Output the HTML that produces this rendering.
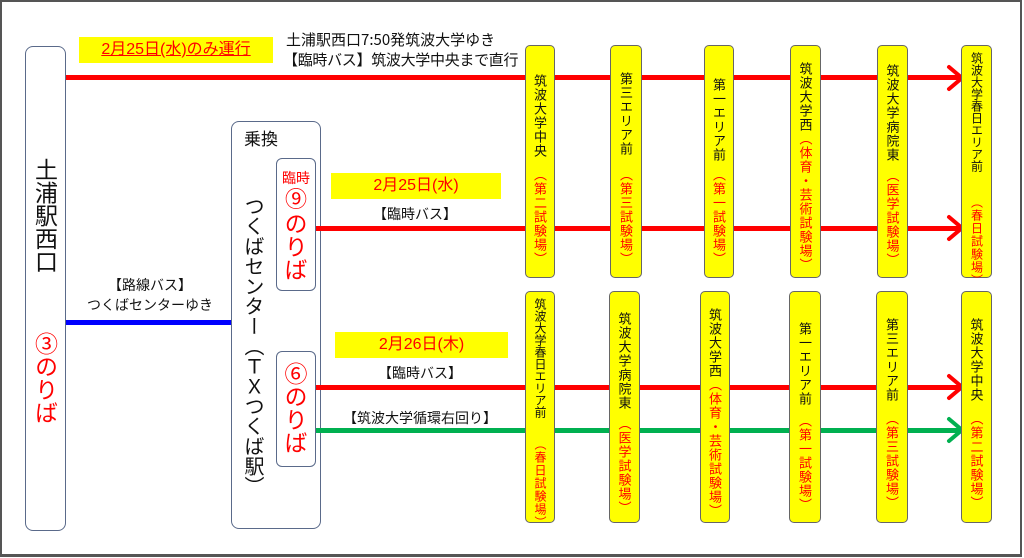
<!DOCTYPE html>
<html><head><meta charset="utf-8"><style>
*{margin:0;padding:0;box-sizing:border-box}
body{width:1024px;height:558px;background:#fff;position:relative;overflow:hidden;font-family:"Liberation Sans","Noto Sans CJK JP",sans-serif;color:#111}
.a{position:absolute}
.frame{left:0;top:0;width:1022px;height:557px;border:2px solid #555;border-bottom-width:3px}
.box{position:absolute;border:1.5px solid #5a6a8a;border-radius:8px;background:#fff}
.st{position:absolute;background:#ffff00;border:1.5px solid #666;border-radius:5px}
.v{position:absolute;writing-mode:vertical-rl;text-orientation:upright;left:50%;transform:translateX(-50%);white-space:nowrap;font-family:"Noto Sans CJK JP",sans-serif}
.st .v{font-size:13px;line-height:14px;letter-spacing:1px}
.r{color:#f00}
.yl{position:absolute;background:#ffff00;color:#f00;text-align:center;font-size:16px;line-height:26px}
.t{position:absolute;font-size:14px;white-space:nowrap;text-align:center}
.line{position:absolute;height:5px}
</style></head><body>
<div class="a frame"></div>

<!-- left station -->
<div class="box" style="left:25px;top:46px;width:41px;height:485px"></div>
<div class="v" style="left:46px;top:158px;font-size:23px;line-height:25px;letter-spacing:0px">土浦駅西口</div>
<div class="v r" style="left:46px;top:332px;font-size:23px;line-height:25px;letter-spacing:0px">③のりば</div>

<!-- transfer box -->
<div class="box" style="left:231px;top:121px;width:90px;height:408px"></div>
<div class="t" style="left:231px;top:125px;width:60px;font-size:17px;font-family:'Noto Sans CJK JP',sans-serif">乗換</div>
<div class="v" style="left:254px;top:196px;font-size:20px;line-height:22px;letter-spacing:0px">つくばセンター（ＴＸつくば駅）</div>
<div class="box" style="left:276px;top:158px;width:40px;height:133px;border-radius:6px"></div>
<div class="t r" style="left:276px;top:168px;width:40px;font-size:14px;font-family:'Noto Sans CJK JP',sans-serif">臨時</div>
<div class="t r" style="left:276px;top:182px;width:40px;font-size:22px">⑨</div>
<div class="v r" style="left:296px;top:212px;font-size:23px;line-height:24px;letter-spacing:0px">のりば</div>
<div class="box" style="left:276px;top:351px;width:40px;height:116px;border-radius:6px"></div>
<div class="v r" style="left:296px;top:362px;font-size:23px;line-height:24px;letter-spacing:0px">⑥のりば</div>

<!-- top route -->
<div class="yl" style="left:79px;top:37px;width:194px;text-decoration:underline">2月25日(水)のみ運行</div>
<div class="t" style="left:286px;top:30px;text-align:left;font-size:15px;font-family:'Noto Sans CJK JP',sans-serif;line-height:20px">土浦駅西口7:50発筑波大学ゆき</div>
<div class="t" style="left:283px;top:50px;text-align:left;font-size:15px;font-family:'Noto Sans CJK JP',sans-serif;line-height:20px;letter-spacing:-0.3px">【臨時バス】筑波大学中央まで直行</div>
<div class="line" style="left:66px;top:75px;width:893px;background:#f00"></div>

<!-- blue -->
<div class="t" style="left:80px;top:275px;width:140px">【路線バス】</div>
<div class="t" style="left:80px;top:295px;width:140px">つくばセンターゆき</div>
<div class="line" style="left:66px;top:320px;width:165px;background:#0000ff"></div>

<!-- 2/25 -->
<div class="yl" style="left:331px;top:173px;width:170px">2月25日(水)</div>
<div class="t" style="left:350px;top:204px;width:130px">【臨時バス】</div>
<div class="line" style="left:316px;top:226px;width:643px;background:#f00"></div>

<!-- 2/26 -->
<div class="yl" style="left:335px;top:332px;width:173px">2月26日(木)</div>
<div class="t" style="left:355px;top:363px;width:130px">【臨時バス】</div>
<div class="line" style="left:316px;top:385px;width:643px;background:#f00"></div>
<div class="t" style="left:320px;top:408px;width:200px">【筑波大学循環右回り】</div>
<div class="line" style="left:316px;top:428px;width:643px;background:#00b050"></div>

<!-- arrowheads -->
<svg class="a" style="left:0;top:0" width="1024" height="558">
<g fill="none" stroke-width="4" stroke-linecap="round">
<polyline points="949,67 962,78 949,89" stroke="#f00"/>
<polyline points="949,217 962,228 949,239" stroke="#f00"/>
<polyline points="949,376 962,387 949,398" stroke="#f00"/>
<polyline points="949,419 962,430 949,441" stroke="#00b050"/>
</g></svg>

<!-- top stations -->
<div class="st" style="left:525px;top:45px;width:30px;height:233px"><div class="v" style="top:28px">筑波大学中央</div><div class="v r" style="top:122px">（第二試験場）</div></div>
<div class="st" style="left:610px;top:45px;width:32px;height:233px"><div class="v" style="top:26px">第三エリア前</div><div class="v r" style="top:122px">（第三試験場）</div></div>
<div class="st" style="left:704px;top:45px;width:30px;height:233px"><div class="v" style="top:32px">第一エリア前</div><div class="v r" style="top:122px">（第一試験場）</div></div>
<div class="st" style="left:790px;top:45px;width:31px;height:233px"><div class="v" style="top:16px">筑波大学西<span class="r">（体育・芸術試験場）</span></div></div>
<div class="st" style="left:877px;top:45px;width:31px;height:233px"><div class="v" style="top:18px">筑波大学病院東</div><div class="v r" style="top:123px">（医学試験場）</div></div>
<div class="st" style="left:961px;top:45px;width:31px;height:233px"><div class="v" style="top:6px;font-size:12px;line-height:12px;letter-spacing:0">筑波大学春日エリア前</div><div class="v r" style="top:150px;font-size:12px;letter-spacing:1px">（春日試験場）</div></div>

<!-- bottom stations -->
<div class="st" style="left:525px;top:291px;width:30px;height:232px"><div class="v" style="top:6px;font-size:12px;line-height:12px;letter-spacing:0">筑波大学春日エリア前</div><div class="v r" style="top:146px;font-size:12px;letter-spacing:1px">（春日試験場）</div></div>
<div class="st" style="left:609px;top:291px;width:31px;height:232px"><div class="v" style="top:20px">筑波大学病院東</div><div class="v r" style="top:125px">（医学試験場）</div></div>
<div class="st" style="left:700px;top:291px;width:30px;height:232px"><div class="v" style="top:16px">筑波大学西<span class="r">（体育・芸術試験場）</span></div></div>
<div class="st" style="left:789px;top:291px;width:32px;height:232px"><div class="v" style="top:30px">第一エリア前</div><div class="v r" style="top:122px">（第一試験場）</div></div>
<div class="st" style="left:876px;top:291px;width:32px;height:232px"><div class="v" style="top:26px">第三エリア前</div><div class="v r" style="top:120px">（第三試験場）</div></div>
<div class="st" style="left:961px;top:291px;width:31px;height:232px"><div class="v" style="top:26px">筑波大学中央</div><div class="v r" style="top:120px">（第二試験場）</div></div>
</body></html>
